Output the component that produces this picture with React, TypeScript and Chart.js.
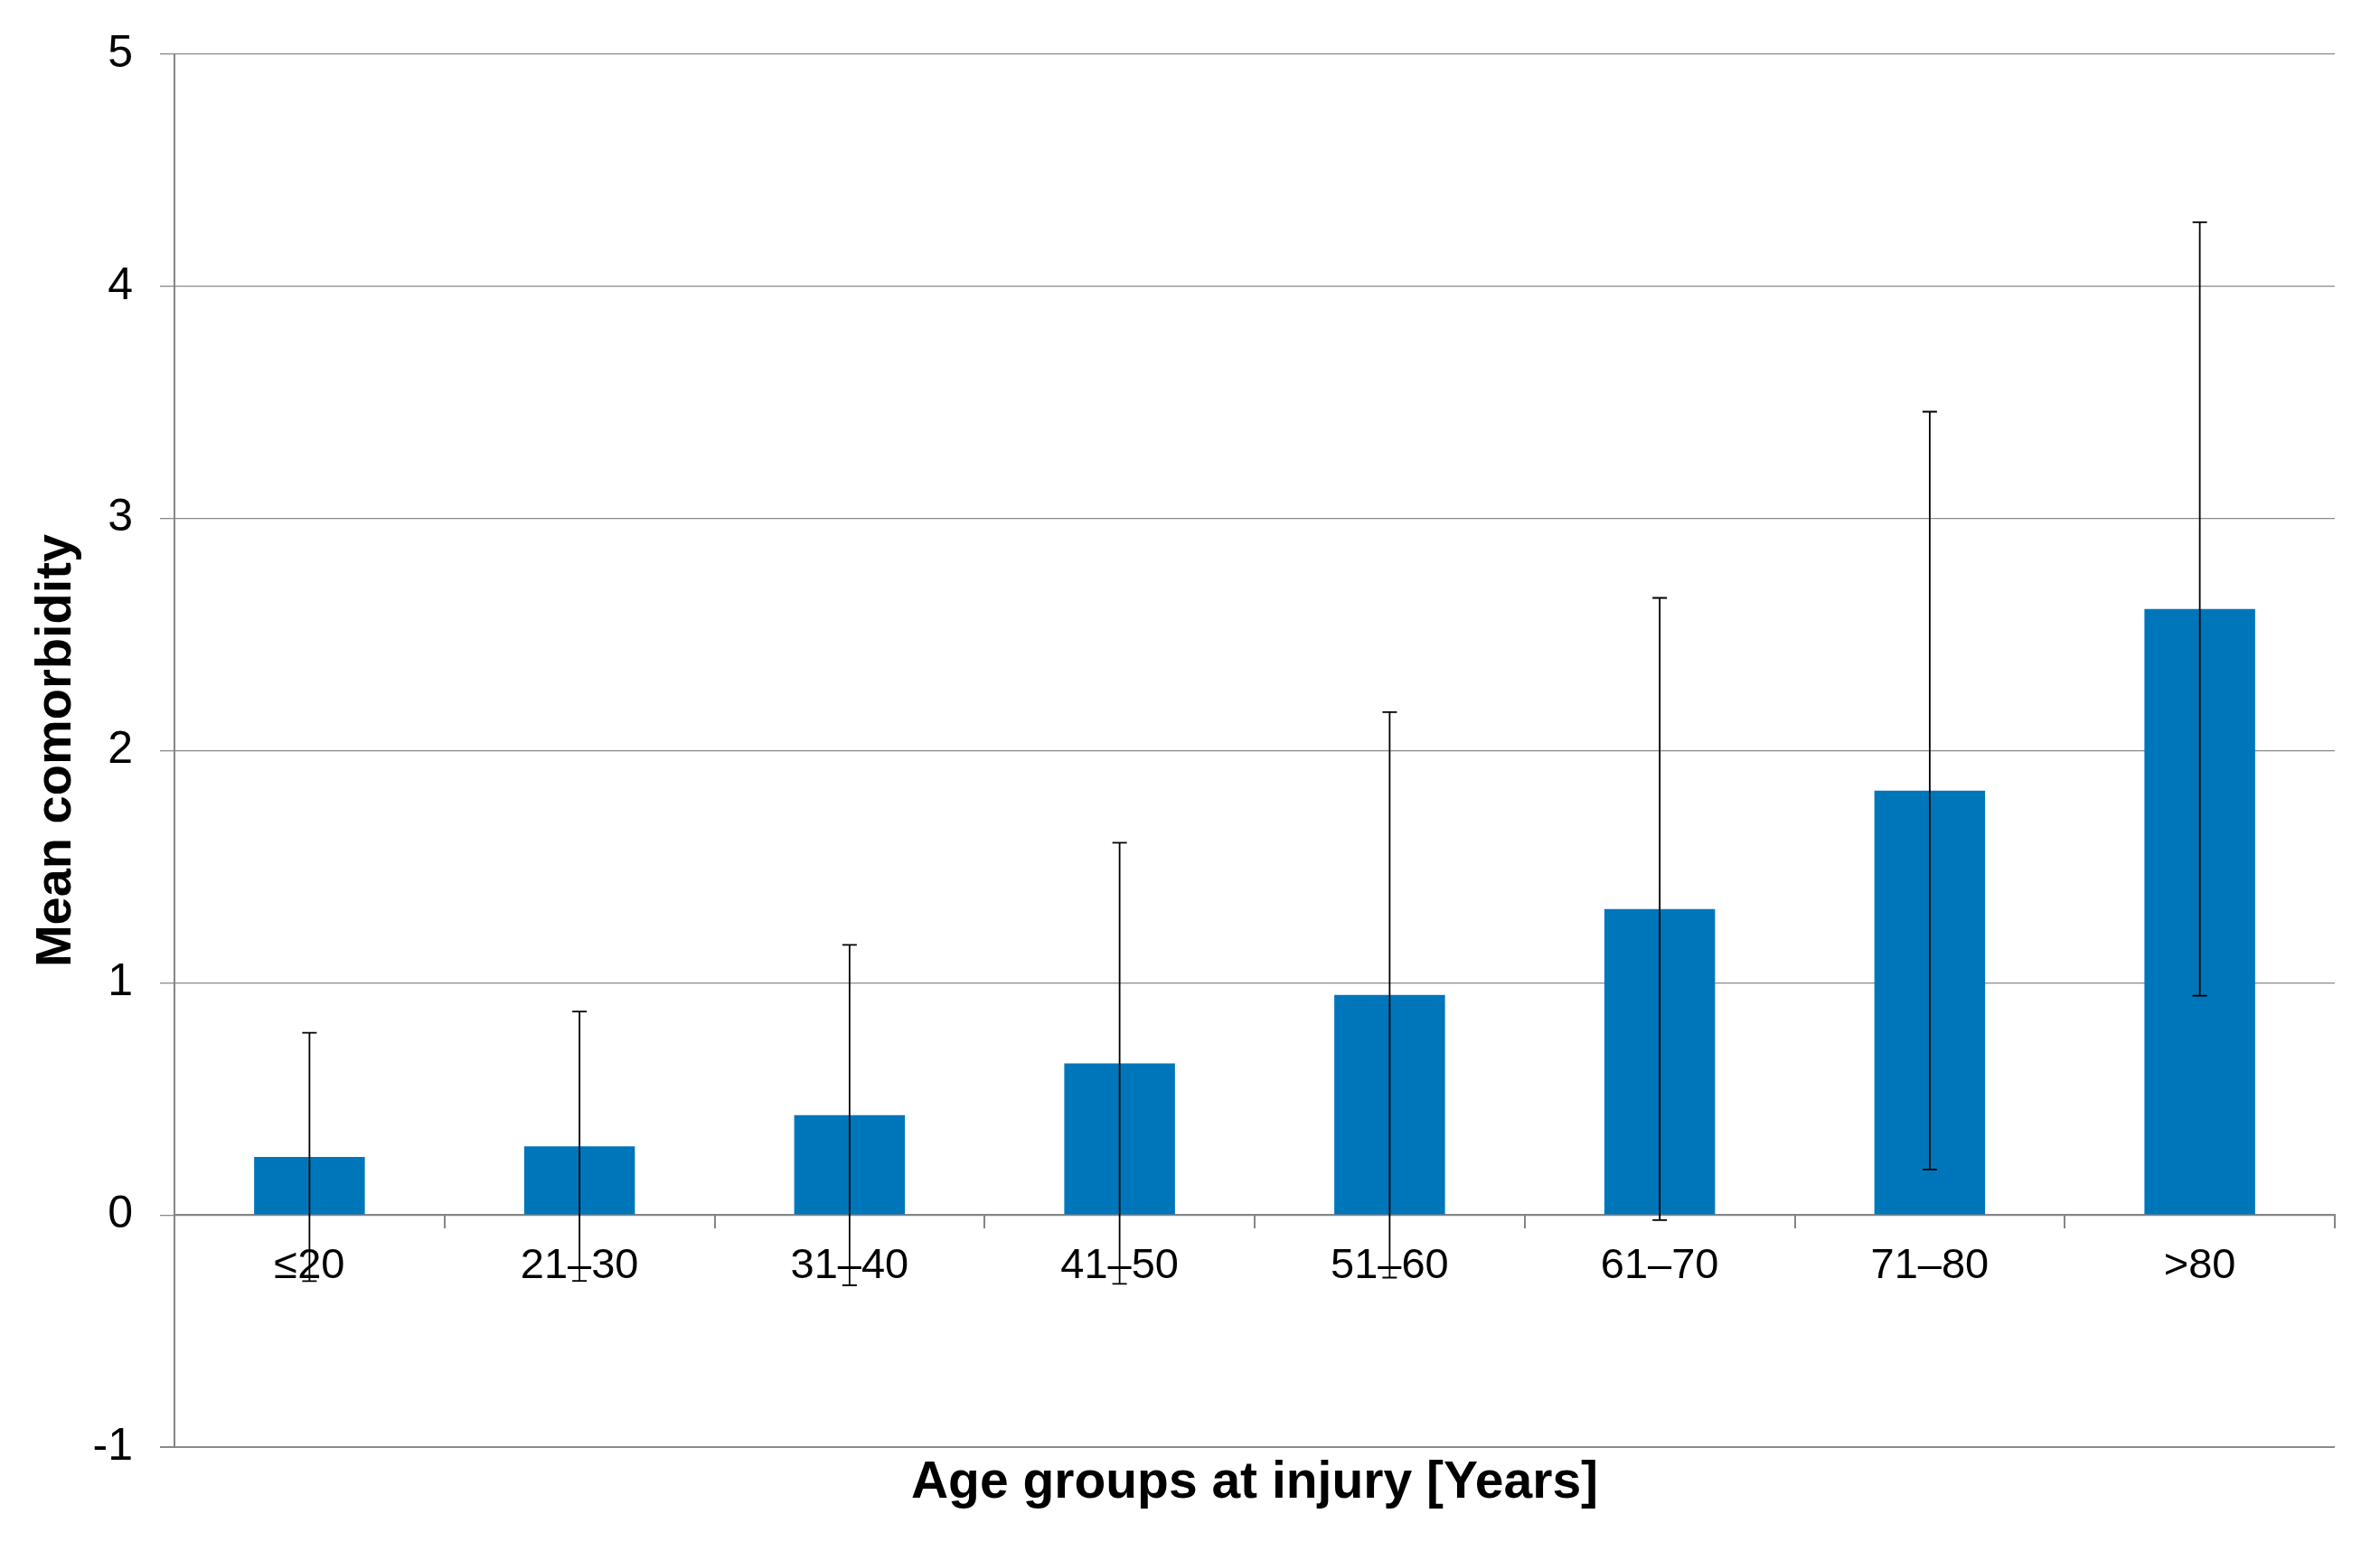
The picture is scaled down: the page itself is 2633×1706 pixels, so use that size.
import React, { useEffect, useRef } from 'react';
import { Chart, registerables } from 'chart.js';

Chart.register(...registerables);

// ---- data ----
const categories = ['≤20', '21–30', '31–40', '41–50', '51–60', '61–70', '71–80', '>80'];
const meanValues = [0.25, 0.296, 0.43, 0.653, 0.948, 1.318, 1.828, 2.61];
const sdValues = [0.535, 0.58, 0.733, 0.95, 1.218, 1.34, 1.632, 1.666];
const yMin = -1;
const yMax = 5;
const yStep = 1;

const FONT = '"Liberation Sans", Arial, Helvetica, sans-serif';
const AXIS_GRAY = '#858585';
const GRID_GRAY = '#8a8a8a';
const BAR_BLUE = '#0076BA';

const errorBarPlugin = {
  id: 'errorBars',
  afterDatasetsDraw(chart: any) {
    const ctx = chart.ctx;
    const meta = chart.getDatasetMeta(0);
    const y = chart.scales.y;
    const cap = 8;
    ctx.save();
    ctx.strokeStyle = '#000';
    ctx.lineWidth = 1.8;
    meta.data.forEach((bar: any, i: number) => {
      const x = bar.x;
      const top = y.getPixelForValue(meanValues[i] + sdValues[i]);
      const bot = y.getPixelForValue(meanValues[i] - sdValues[i]);
      ctx.beginPath();
      ctx.moveTo(x, top);
      ctx.lineTo(x, bot);
      ctx.moveTo(x - cap, top);
      ctx.lineTo(x + cap, top);
      ctx.moveTo(x - cap, bot);
      ctx.lineTo(x + cap, bot);
      ctx.stroke();
    });
    ctx.restore();
  },
};

export default function App() {
  const canvasRef = useRef<HTMLCanvasElement | null>(null);

  useEffect(() => {
    if (!canvasRef.current) return;
    const chart = new Chart(canvasRef.current, {
      type: 'bar',
      data: {
        labels: categories,
        datasets: [
          {
            data: meanValues,
            backgroundColor: BAR_BLUE,
            borderWidth: 0,
            categoryPercentage: 1,
            barPercentage: 0.41,
          },
        ],
      },
      options: {
        animation: false,
        responsive: false,
        layout: { padding: { top: 57, right: 50, bottom: 0, left: 0 } },
        plugins: {
          legend: { display: false },
          tooltip: { enabled: false },
        },
        scales: {
          x: {
            type: 'category',
            position: { y: 0 } as any,
            offset: true,
            grid: {
              offset: true,
              drawOnChartArea: false,
              drawTicks: true,
              tickLength: 14,
              color: AXIS_GRAY,
              lineWidth: 2,
            },
            border: { display: true, color: AXIS_GRAY, width: 2 },
            ticks: {
              font: { size: 47, family: FONT },
              color: '#000',
              padding: 15,
              maxRotation: 0,
              autoSkip: false,
            },
          },
          x2: {
            type: 'category',
            position: 'bottom',
            labels: categories,
            grid: { display: false },
            border: { display: false },
            ticks: { display: false },
            title: {
              display: true,
              text: 'Age groups at injury [Years]',
              font: { size: 57, weight: 'bold', family: FONT },
              color: '#000',
              padding: { top: 0, bottom: 31 },
            },
            afterFit: (s: any) => {
              s.height = 105;
            },
          },
          y: {
            min: yMin,
            max: yMax,
            ticks: {
              stepSize: yStep,
              font: { size: 50, family: FONT },
              color: '#000',
              padding: 30,
            },
            grid: {
              color: GRID_GRAY,
              lineWidth: (c: any) => (c.tick && c.tick.value === yMin ? 2 : 1.3),
              tickLength: 16,
              drawTicks: true,
            },
            border: { color: AXIS_GRAY, width: 2 },
            title: {
              display: true,
              text: 'Mean comorbidity',
              font: { size: 56, weight: 'bold', family: FONT },
              color: '#000',
              padding: { top: 29, bottom: 0 },
            },
            afterFit: (s: any) => {
              s.width = 193;
            },
          },
        },
      } as any,
      plugins: [errorBarPlugin],
    });
    return () => chart.destroy();
  }, []);

  return (
    <div style={{ position: 'absolute', left: 0, top: 0, width: 2633, height: 1706, background: '#fff' }}>
      <canvas ref={canvasRef} width={2633} height={1706} style={{ width: 2633, height: 1706, display: 'block' }} />
    </div>
  );
}
